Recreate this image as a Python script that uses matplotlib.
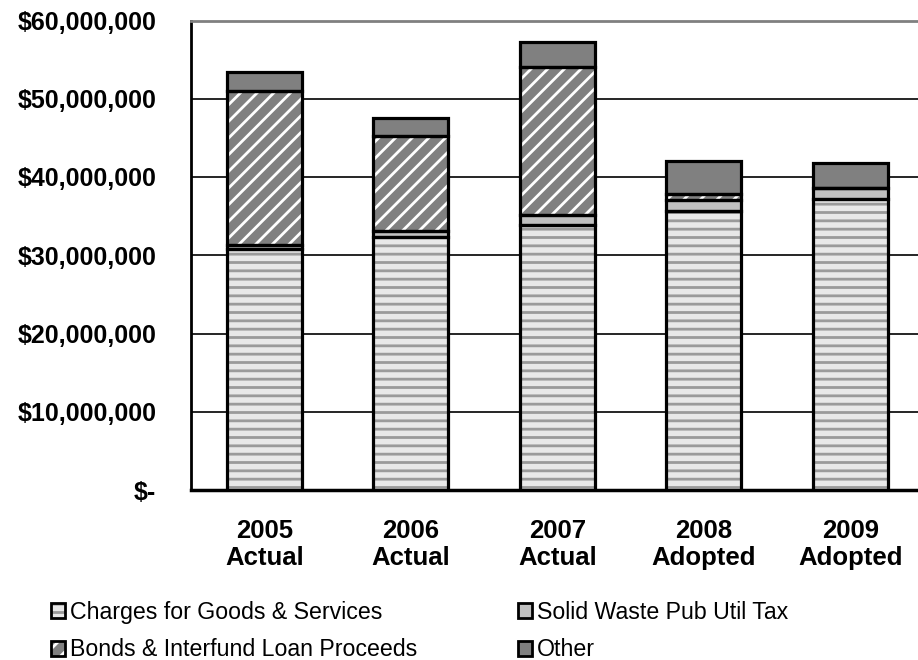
import matplotlib
matplotlib.use("Agg")
import matplotlib.pyplot as plt
from matplotlib.patches import Patch
from matplotlib.ticker import FuncFormatter

plt.rcParams['font.family'] = ['Liberation Sans', 'DejaVu Sans']
plt.rcParams['hatch.linewidth'] = 2.0

years = ['2005\nActual', '2006\nActual', '2007\nActual', '2008\nAdopted', '2009\nAdopted']
charges = [30.8, 32.3, 33.9, 35.7, 37.2]      # $ millions
solid_waste = [0.5, 0.8, 1.3, 1.4, 1.4]
bonds = [19.7, 12.2, 18.9, 0.7, 0.0]
other = [2.4, 2.3, 3.2, 4.3, 3.2]

labels = ['Charges for Goods & Services', 'Bonds & Interfund Loan Proceeds',
          'Solid Waste Pub Util Tax', 'Other']

# face, hatch, hatch colour
styles = {
    'charges': ('#e8e8e8', '--', '#9a9a9a'),
    'bonds': ('#808080', '//', '#ffffff'),
    'solid': ('#c0c0c0', '', '#c0c0c0'),
    'other': ('#808080', '', '#808080'),
}

fig = plt.figure(figsize=(9.18, 6.6), dpi=100)
ax = fig.add_axes([191 / 918, 170 / 660, 732.5 / 918, 469.5 / 660])

x = list(range(len(years)))
w = 0.51
series = [('charges', charges), ('solid', solid_waste), ('bonds', bonds), ('other', other)]
bottom = [0.0] * len(years)
handles = {}
for key, vals in series:
    vals_d = [v * 1e6 for v in vals]
    face, hatch, hcol = styles[key]
    ax.bar(x, vals_d, w, bottom=bottom, color=face, hatch=hatch, edgecolor=hcol,
           linewidth=0, zorder=3)
    ax.bar(x, vals_d, w, bottom=bottom, fill=False, edgecolor='black',
           linewidth=2.3, zorder=4)
    handles[key] = (Patch(facecolor=face, hatch=hatch, edgecolor=hcol, linewidth=0),
                    Patch(fill=False, edgecolor='black', linewidth=2.0))
    bottom = [b + v for b, v in zip(bottom, vals_d)]

ax.set_xlim(-0.5, 4.5)
ax.set_ylim(0, 60e6)
ax.set_yticks([i * 10e6 for i in range(7)])
ax.yaxis.grid(True, color='black', linewidth=1.2, zorder=0)
ax.set_axisbelow(True)

def money(v, pos):
    if v == 0:
        return '$-'
    return '${:,.0f}'.format(v)

ax.yaxis.set_major_formatter(FuncFormatter(money))
ax.set_xticks(x)
ax.set_xticklabels(years, linespacing=1.15)
ax.tick_params(axis='y', length=0, pad=25, labelsize=18)
ax.tick_params(axis='x', length=0, pad=21, labelsize=18.5)
for lab in ax.get_xticklabels() + ax.get_yticklabels():
    lab.set_fontweight('bold')
ax.spines['right'].set_visible(False)
ax.spines['top'].set_color('#808080')
ax.spines['top'].set_linewidth(2)
ax.spines['left'].set_linewidth(2)
ax.spines['bottom'].set_linewidth(2.5)

leg_kw = dict(frameon=False, fontsize=16.7, handlelength=0.6, handleheight=0.6,
              handletextpad=0.2, labelspacing=0.62, borderpad=0, borderaxespad=0,
              loc='upper left')
fig.legend([handles['charges'], handles['bonds']], [labels[0], labels[1]],
           bbox_to_anchor=(51 / 918, 1 - 601 / 660), **leg_kw)
fig.legend([handles['solid'], handles['other']], [labels[2], labels[3]],
           bbox_to_anchor=(518 / 918, 1 - 601 / 660), **leg_kw)

fig.savefig('out.png', dpi=100)
